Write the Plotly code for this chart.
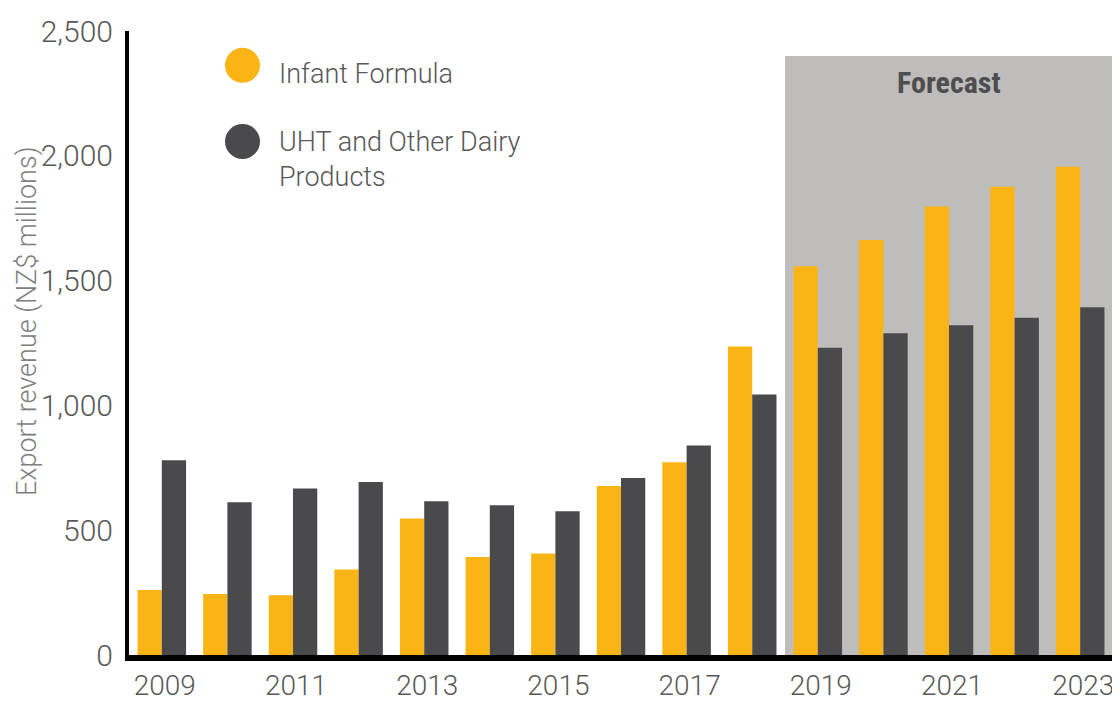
import plotly.graph_objects as go

years = list(range(2009, 2024))
infant_formula = [260, 244, 239, 343, 547, 393, 407, 677, 772, 1236, 1557, 1663, 1797, 1876, 1956]
uht_other = [780, 612, 667, 693, 616, 600, 576, 709, 839, 1044, 1231, 1289, 1321, 1351, 1393]
series_names = ["Infant Formula", "UHT and Other Dairy<br>Products"]
tick_years = [2009, 2011, 2013, 2015, 2017, 2019, 2021, 2023]
y_ticks = [0, 500, 1000, 1500, 2000, 2500]
y_tick_labels = ["0", "500", "1,000", "1,500", "2,000", "2,500"]
forecast_start, forecast_end, forecast_top = 2018.5, 2023.5, 2400

YELLOW = "#FBB416"
DARK = "#4A4A4C"
SHADE = "#BEBDBC"
TXT = "#585858"
FONT = "Roboto, Liberation Sans, Arial, sans-serif"

# page body has an 8px default margin; size the figure to fit the 1120x703 window
OFF = 8
FIG_W, FIG_H = 1120 - OFF, 703 - OFF
# plot area in screen pixels
SL, SR, ST, SB = 129, 1113, 31, 655
L, T = SL - OFF, ST - OFF
W, H = SR - SL, SB - ST

def px(xs):
    return (xs - SL) / W
def py(ys):
    return (SB - ys) / H

fig = go.Figure()
fig.add_trace(go.Bar(x=years, y=infant_formula, name=series_names[0],
                     marker=dict(color=YELLOW, line=dict(width=0))))
fig.add_trace(go.Bar(x=years, y=uht_other, name=series_names[1],
                     marker=dict(color=DARK, line=dict(width=0))))

fig.add_shape(type="rect", xref="x", yref="y", x0=forecast_start, x1=forecast_end,
              y0=0, y1=forecast_top, fillcolor=SHADE, line=dict(width=0), layer="below")

fig.add_annotation(x=2021, y=2295, xref="x", yref="y", text="<b>Forecast</b>",
                   showarrow=False, xanchor="center", yanchor="middle",
                   font=dict(family="Liberation Sans Narrow, Arial Narrow, Roboto Condensed, DejaVu Sans Condensed, sans-serif",
                             size=30, color="#4E4E50"))

# legend (manual, circular markers)
for cy, col in [(65.3, YELLOW), (141.5, DARK)]:
    fig.add_shape(type="circle", xref="paper", yref="paper",
                  xsizemode="pixel", ysizemode="pixel",
                  xanchor=px(242.5), yanchor=py(cy),
                  x0=-17.5, x1=17.5, y0=-17.5, y1=17.5,
                  fillcolor=col, line=dict(width=0))

fig.add_annotation(xref="paper", yref="paper", x=px(277), y=py(74), text=series_names[0],
                   showarrow=False, xanchor="left", yanchor="middle", align="left",
                   font=dict(family=FONT, size=27, color=TXT, weight=300))
fig.add_annotation(xref="paper", yref="paper", x=px(277), y=py(159), text=series_names[1],
                   showarrow=False, xanchor="left", yanchor="middle", align="left",
                   font=dict(family=FONT, size=27, color=TXT, weight=300))

# y-axis title
fig.add_annotation(xref="paper", yref="paper", x=px(27), y=py(322),
                   text="Export revenue (NZ$ millions)", textangle=-90,
                   showarrow=False, xanchor="center", yanchor="middle",
                   font=dict(family=FONT, size=27, color="#7E7E7E", weight=300))

fig.update_layout(
    width=FIG_W, height=FIG_H,
    margin=dict(l=L, r=FIG_W - L - W, t=T, b=FIG_H - T - H, pad=0),
    barmode="group", bargap=0.26, bargroupgap=0,
    showlegend=False,
    plot_bgcolor="white", paper_bgcolor="white",
    font=dict(family=FONT, color=TXT, weight=300),
)
fig.update_xaxes(range=[2008.5, 2023.5], tickmode="array", tickvals=tick_years,
                 ticktext=[str(y) for y in tick_years], showgrid=False, zeroline=False,
                 showline=True, linecolor="black", linewidth=6, ticks="",
                 ticklabelshift=3, ticklabelstandoff=0, automargin=False,
                 tickfont=dict(family=FONT, size=28, color=TXT, weight=300))
fig.update_yaxes(range=[0, 2500], tickmode="array", tickvals=y_ticks, ticktext=y_tick_labels,
                 showgrid=False, zeroline=False, showline=True, linecolor="black",
                 linewidth=4, ticks="", ticklabelstandoff=6, automargin=False,
                 tickfont=dict(family=FONT, size=30, color=TXT, weight=300))

fig.write_html("out.html")
